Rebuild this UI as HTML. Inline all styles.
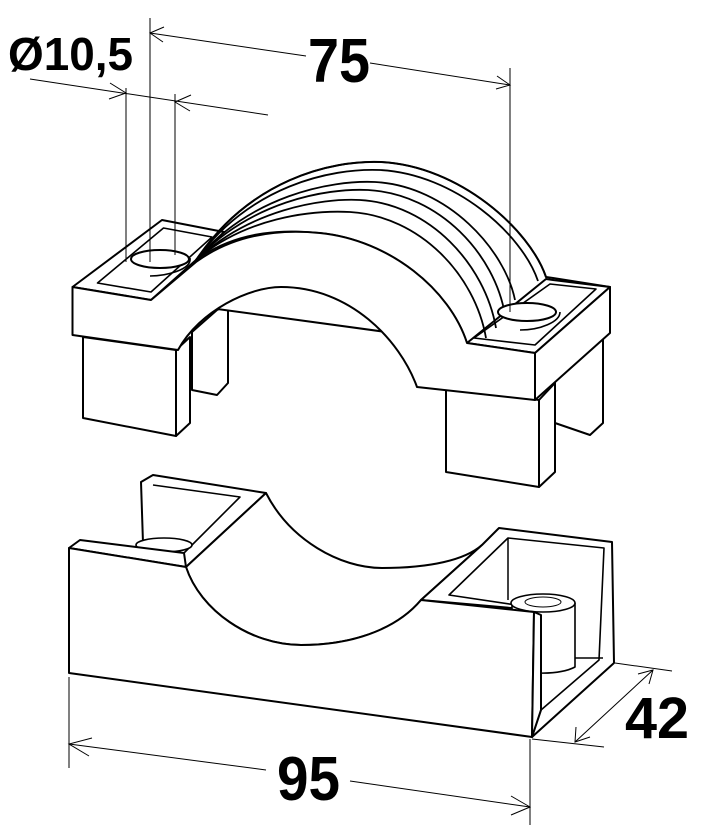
<!DOCTYPE html>
<html><head><meta charset="utf-8"><style>
html,body{margin:0;padding:0;background:#fff;}
svg{display:block;}
text{font-family:"Liberation Sans",sans-serif;font-weight:bold;fill:#000;}
</style></head><body>
<svg width="703" height="839" viewBox="0 0 703 839" xmlns="http://www.w3.org/2000/svg">
<g fill="#fff" stroke="#000" stroke-width="2" stroke-linejoin="round">
<path d="M192,332 L192,390 L217,395 L228,383 L228,305 L217,310 Z"/>
<path d="M555,350 L555,423 L590,435 L603,423 L603,337 L590,350 Z"/>
<path d="M83,337 L83,418 L176,436 L176,350 Z"/>
<path d="M176,350 L190,337 L190,423 L176,436 Z"/>
<path d="M446,388 L446,472 L539,487 L539,400 Z"/>
<path d="M539,400 L555,383 L555,472 L539,487 Z"/>
<path d="M196,260 C250,180 330,160 381,162 C460,166 530,230 546,277 L553,278 L610,287 L535,353 L467,343 L151,300 Z"/>
<path d="M72.5,287 L162,220 L224,232 L196,260 L151,300 Z"/>
<path d="M97.5,283 L163.5,228 L212,237 L151,292 Z" stroke-width="1.6"/>
<path d="M467,343 L546,279 L553,280 L610,287 L535,353 Z"/>
<path d="M474,338 L550,284 L596,289 L535,345 Z" stroke-width="1.6"/>
<g fill="none" stroke-width="1.8">
<path d="M196,260 C250,180 330,160 381,162 C460,166 530,230 546,277"/>
<path d="M196,260 C250,186 330,168 380,170 C455,174 522,234 538,281"/>
<path d="M196,260 C250,196 330,180 375,182 C448,186 505,250 515,300"/>
<path d="M196,260 C250,202 325,188 368,190 C440,194 495,255 505,315"/>
<path d="M196,260 C250,210 320,198 360,200 C430,204 485,265 496,328"/>
<path d="M196,260 C245,218 310,210 350,212 C420,216 475,275 486,338"/>
<path d="M196,260 C240,228 290,230 320,233 C390,240 450,290 467,343"/>
</g>
<path d="M72.5,287 L151,300 L196,262 C240,230 290,230 320,233 C390,240 450,290 467,343 L535,353 L535,400 L417,387 C400,340 350,287 281,287 C250,287 200,310 178,350 L72.5,335 Z"/>
<path d="M535,353 L610,287 L610,333 L535,400 Z"/>
<path d="M190,258 C192,270 165,276 150,276" fill="none" stroke-width="1.6"/>
<ellipse cx="160" cy="259" rx="29" ry="9"/>
<path d="M560,312 C560,322 540,330 520,330" fill="none" stroke-width="1.6"/>
<ellipse cx="527" cy="312" rx="29" ry="9"/>

<path d="M141,482 L153,475 L266,493 L186,567 L143,543 Z"/>
<path d="M153,485 L240,497 L184,553" fill="none" stroke-width="1.6"/>
<path d="M266,493 C290,540 340,568 382,568 C430,568 465,560 482,545 L421,600 C400,625 360,645 301,645 C250,645 200,610 186,567 Z"/>
<path d="M482,545 L499,528 L612,542 L614,663 L532,737 L534,610 L421,600 Z"/>
<path d="M449,595 L508,538 L604,548 L599,660 L541,710 L541,615 L536,608 Z" stroke-width="1.6"/>
<path d="M508,538 L508,600" fill="none" stroke-width="1.5"/>
<path d="M512,603 L512,668 C525,675 560,675 575,667 L575,603" stroke-width="1.6"/>
<ellipse cx="543" cy="603" rx="32" ry="9" stroke-width="1.6"/>
<ellipse cx="543" cy="602" rx="18" ry="5" fill="none" stroke-width="1"/>
<path d="M575,658 L603,658" fill="none" stroke-width="1.5"/>
<ellipse cx="164" cy="545" rx="28" ry="7" stroke-width="1.6"/>
<path d="M69,548 L80,540 L184,553 L186,567 Z"/>
<path d="M69,548 L186,567 C200,610 250,645 301,645 C360,645 400,625 421,600 L534,612 L532,737 L69,673 Z"/>
<path d="M534,612 L541,615 L541,710 L532,737 Z"/>
</g>
<g stroke="#000" stroke-width="1" fill="none">
<line x1="126" y1="88" x2="126" y2="262"/>
<line x1="150" y1="18" x2="150" y2="262"/>
<line x1="175" y1="94" x2="175" y2="255"/>
<line x1="510" y1="68" x2="510" y2="312"/>
<line x1="30" y1="79" x2="268" y2="115"/>
<path d="M110,83 L126,93 L109,99"/>
<path d="M191,95 L175,102 L190,111"/>
<line x1="150" y1="33" x2="306" y2="56"/>
<line x1="370" y1="63" x2="510" y2="85"/>
<path d="M164,27 L150,33 L163,42"/>
<path d="M497,76 L510,85 L496,89"/>
<line x1="69" y1="677" x2="69" y2="768"/>
<line x1="530" y1="739" x2="530" y2="825"/>
<line x1="69" y1="744" x2="266" y2="770"/>
<line x1="350" y1="781" x2="530" y2="807"/>
<path d="M92,738 L69,744 L89,756"/>
<path d="M511,796 L530,807 L511,815"/>
<line x1="615" y1="663" x2="672" y2="671"/>
<line x1="532" y1="739" x2="604" y2="747"/>
<line x1="653" y1="670" x2="575" y2="742"/>
<path d="M638,674 L653,670 L649,684"/>
<path d="M576,727 L575,742 L590,737"/>
</g>
<text x="8" y="70" font-size="46" textLength="125" lengthAdjust="spacingAndGlyphs">Ø10,5</text>
<text x="308" y="82" font-size="62" textLength="62" lengthAdjust="spacingAndGlyphs">75</text>
<text x="277" y="800" font-size="62" textLength="63" lengthAdjust="spacingAndGlyphs">95</text>
<text x="625" y="738" font-size="58" textLength="64" lengthAdjust="spacingAndGlyphs">42</text>
</svg>
</body></html>
